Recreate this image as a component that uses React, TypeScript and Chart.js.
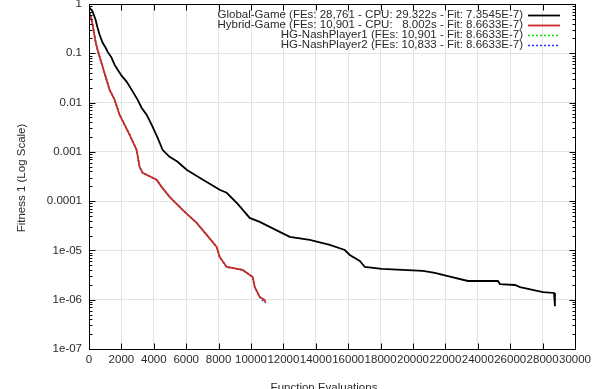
import React, { useEffect, useRef } from "react";
import { Chart, registerables } from "chart.js";

Chart.register(...registerables);

// ---- Data ----
const globalX = [31, 216, 402, 525, 649, 834, 1020, 1143, 1391, 1576, 1761, 2009, 2318, 2627, 2997, 3245, 3554, 3863, 4233, 4542, 4975, 5469, 6026, 6829, 7447, 8065, 8498, 9177, 9919, 10537, 11155, 11773, 12391, 13627, 14863, 15790, 16099, 16717, 17026, 18077, 20611, 21352, 22094, 23392, 25246, 25369, 26296, 26605, 28026, 28706, 28761];
const globalY = [0.849, 0.704, 0.484, 0.333, 0.24, 0.165, 0.131, 0.108, 0.0818, 0.0589, 0.0467, 0.0352, 0.0266, 0.0183, 0.01146, 0.00787, 0.00568, 0.00356, 0.00194, 0.0011, 0.000794, 0.000629, 0.000433, 0.000298, 0.000225, 0.00017, 0.000148, 0.0000881, 0.0000457, 0.0000379, 0.0000301, 0.0000238, 0.0000188, 0.0000163, 0.0000129, 0.0000102, 8.1e-6, 6.12e-6, 4.62e-6, 4.21e-6, 3.83e-6, 3.49e-6, 3.03e-6, 2.4e-6, 2.4e-6, 2.08e-6, 1.99e-6, 1.81e-6, 1.43e-6, 1.37e-6, 7.3545e-7];

const hybridX = [31, 155, 278, 402, 525, 834, 1082, 1267, 1576, 1885, 2194, 2503, 2936, 3121, 3306, 4172, 4481, 4975, 5778, 6644, 7262, 7880, 8065, 8498, 9486, 10104, 10228, 10537, 10846, 10901];
const hybridY = [0.672, 0.484, 0.303, 0.173, 0.119, 0.0537, 0.0292, 0.0183, 0.01146, 0.00568, 0.00356, 0.00223, 0.0011, 0.000498, 0.000376, 0.000271, 0.000195, 0.000122, 0.0000665, 0.0000362, 0.0000207, 0.0000118, 7.38e-6, 4.62e-6, 4.02e-6, 2.89e-6, 1.81e-6, 1.14e-6, 9.86e-7, 8.6633e-7];

const nash1X = [31, 155, 278, 402, 525, 834, 1082, 1267, 1576, 1885, 2194, 2503, 2936, 3121, 3306, 4172, 4481, 4975, 5778, 6644, 7262, 7880, 8065, 8498, 9486, 10104, 10228, 10537, 10846, 10901];
const nash1Y = [0.672, 0.484, 0.303, 0.173, 0.119, 0.0537, 0.0292, 0.0183, 0.01146, 0.00568, 0.00356, 0.00223, 0.0011, 0.000498, 0.000376, 0.000271, 0.000195, 0.000122, 0.0000665, 0.0000362, 0.0000207, 0.0000118, 7.38e-6, 4.62e-6, 4.02e-6, 2.89e-6, 1.81e-6, 1.14e-6, 9.86e-7, 8.6633e-7];

const nash2X = [31, 155, 278, 402, 525, 834, 1082, 1267, 1576, 1885, 2194, 2503, 2936, 3121, 3306, 4172, 4481, 4975, 5778, 6644, 7262, 7880, 8065, 8498, 9486, 10104, 10228, 10537, 10833];
const nash2Y = [0.672, 0.484, 0.303, 0.173, 0.119, 0.0537, 0.0292, 0.0183, 0.01146, 0.00568, 0.00356, 0.00223, 0.0011, 0.000498, 0.000376, 0.000271, 0.000195, 0.000122, 0.0000665, 0.0000362, 0.0000207, 0.0000118, 7.38e-6, 4.62e-6, 4.02e-6, 2.89e-6, 1.81e-6, 1.14e-6, 8.6633e-7];

const xTicks = [0, 2000, 4000, 6000, 8000, 10000, 12000, 14000, 16000, 18000, 20000, 22000, 24000, 26000, 28000, 30000];
const yTickValues = [1, 0.1, 0.01, 0.001, 0.0001, 1e-5, 1e-6, 1e-7];
const yTickLabels = ["1", "0.1", "0.01", "0.001", "0.0001", "1e-05", "1e-06", "1e-07"];

const seriesLabels = [
  "Global-Game (FEs: 28,761 - CPU: 29.322s - Fit: 7.3545E-7)",
  "Hybrid-Game (FEs: 10,901 - CPU:   8.002s - Fit: 8.6633E-7)",
  "HG-NashPlayer1 (FEs: 10,901 - Fit: 8.6633E-7)",
  "HG-NashPlayer2 (FEs: 10,833 - Fit: 8.6633E-7)",
];
const seriesColors = ["#000000", "#cc2a2a", "#00dd00", "#3030ff"];
const seriesWidths = [1.8, 1.8, 1.5, 1.5];
const seriesDash: number[][] = [[], [], [2, 2], [2, 2]];

const xTitle = "Function Evaluations";
const yTitle = "Fitness 1 (Log Scale)";

const FONT = '"Liberation Sans", Arial, Helvetica, sans-serif';
const FONT_SIZE = 11.5;
const TEXT_COLOR = "#2a2a2a";

const toPoints = (xs: number[], ys: number[]) => xs.map((x, i) => ({ x, y: ys[i] }));

const framePlugin = {
  id: "gnuplotFrame",
  afterDraw(chart: any) {
    const { ctx, chartArea } = chart;
    const xs = chart.scales.x;
    const ys = chart.scales.y;
    const L = Math.round(chartArea.left) + 0.5;
    const R = Math.round(chartArea.right) + 0.5;
    const T = Math.round(chartArea.top) + 0.5;
    const B = Math.round(chartArea.bottom) + 0.5;
    ctx.save();
    ctx.strokeStyle = "#000";
    ctx.lineWidth = 1;
    ctx.setLineDash([]);
    ctx.strokeRect(L, T, R - L, B - T);
    ctx.beginPath();
    xTicks.forEach((v) => {
      const px = Math.round(xs.getPixelForValue(v)) + 0.5;
      ctx.moveTo(px, B);
      ctx.lineTo(px, B - 6);
      ctx.moveTo(px, T);
      ctx.lineTo(px, T + 6);
    });
    for (let d = -7; d <= 0; d++) {
      for (let m = 1; m <= 9; m++) {
        const v = m * Math.pow(10, d);
        if (v > 1.0000001) continue;
        const py = Math.round(ys.getPixelForValue(v)) + 0.5;
        const len = m === 1 ? 6 : 3;
        ctx.moveTo(L, py);
        ctx.lineTo(L + len, py);
        ctx.moveTo(R, py);
        ctx.lineTo(R - len, py);
      }
    }
    ctx.stroke();

    // legend (gnuplot style: text right-aligned, sample at right)
    ctx.font = `${FONT_SIZE}px ${FONT}`;
    ctx.textAlign = "right";
    ctx.textBaseline = "middle";
    seriesLabels.forEach((lab, i) => {
      const y = 15 + i * 10;
      ctx.fillStyle = TEXT_COLOR;
      ctx.fillText(lab, 523, y);
      ctx.beginPath();
      ctx.strokeStyle = seriesColors[i];
      ctx.lineWidth = seriesWidths[i];
      ctx.setLineDash(seriesDash[i]);
      ctx.moveTo(528, y + 0.5);
      ctx.lineTo(560, y + 0.5);
      ctx.stroke();
    });
    ctx.setLineDash([]);

    // axis titles
    ctx.fillStyle = TEXT_COLOR;
    ctx.textAlign = "center";
    ctx.textBaseline = "middle";
    ctx.fillText(xTitle, (chartArea.left + chartArea.right) / 2 - 8, 388);
    ctx.save();
    ctx.translate(22, 178);
    ctx.rotate(-Math.PI / 2);
    ctx.fillText(yTitle, 0, 0);
    ctx.restore();
    ctx.restore();
  },
};

export default function App() {
  const ref = useRef<HTMLCanvasElement>(null);
  useEffect(() => {
    if (!ref.current) return;
    const mk = (i: number, xs: number[], ys: number[]) => ({
      label: seriesLabels[i],
      data: toPoints(xs, ys),
      borderColor: seriesColors[i],
      borderWidth: seriesWidths[i],
      borderDash: seriesDash[i],
      pointRadius: 0,
      tension: 0,
      fill: false,
    });
    const chart = new Chart(ref.current, {
      type: "line",
      data: {
        datasets: [mk(0, globalX, globalY), mk(1, hybridX, hybridY), mk(2, nash1X, nash1Y), mk(3, nash2X, nash2Y)],
      },
      options: {
        animation: false,
        responsive: false,
        maintainAspectRatio: false,
        devicePixelRatio: 1,
        layout: { padding: { top: 4, right: 25, left: 0, bottom: 0 } },
        plugins: { legend: { display: false }, tooltip: { enabled: false }, title: { display: false } },
        scales: {
          x: {
            type: "linear",
            min: 0,
            max: 30000,
            afterBuildTicks: (s: any) => {
              s.ticks = xTicks.map((v) => ({ value: v }));
            },
            afterFit: (s: any) => {
              s.height = 40;
              s.paddingLeft = 0;
              s.paddingRight = 0;
            },
            ticks: {
              autoSkip: false,
              maxRotation: 0,
              minRotation: 0,
              padding: 4,
              color: TEXT_COLOR,
              font: { family: FONT, size: FONT_SIZE },
              callback: (v: any) => String(v),
            },
            grid: { color: "#e4e4e4", drawTicks: false, lineWidth: 1 },
            border: { display: false },
          },
          y: {
            type: "logarithmic",
            min: 1e-7,
            max: 1,
            afterBuildTicks: (s: any) => {
              s.ticks = yTickValues.map((v) => ({ value: v }));
            },
            afterFit: (s: any) => {
              s.width = 89;
              s.paddingTop = 0;
              s.paddingBottom = 0;
            },
            ticks: {
              autoSkip: false,
              padding: 7,
              color: TEXT_COLOR,
              font: { family: FONT, size: FONT_SIZE },
              callback: (v: any) => {
                const idx = yTickValues.findIndex((t) => Math.abs(Math.log10(t) - Math.log10(Number(v))) < 1e-6);
                return idx >= 0 ? yTickLabels[idx] : "";
              },
            },
            grid: { color: "#e4e4e4", drawTicks: false, lineWidth: 1 },
            border: { display: false },
          },
        },
      } as any,
      plugins: [framePlugin],
    });
    return () => chart.destroy();
  }, []);
  return (
    <div style={{ position: "fixed", left: 0, top: 0, width: 600, height: 389, background: "#fff" }}>
      <canvas ref={ref} width={600} height={389} style={{ width: 600, height: 389, display: "block" }} />
    </div>
  );
}
